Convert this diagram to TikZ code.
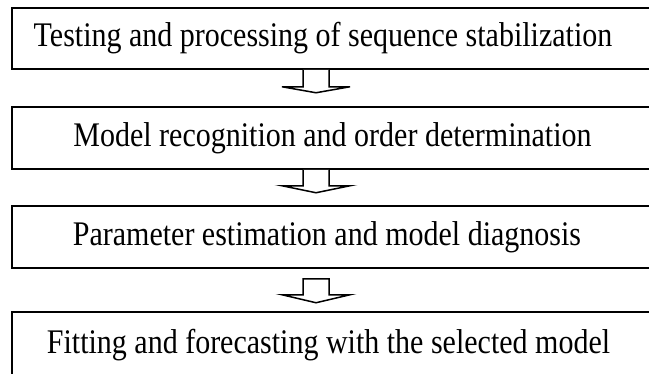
\documentclass[tikz,border=0pt]{standalone}
\usepackage{fontspec}
\setmainfont{Liberation Serif}
\usetikzlibrary{calc}
\newcommand{\boxtxt}[2]{\hspace*{#1}\scalebox{1}[1.15]{#2}}
\begin{document}
\begin{tikzpicture}[x=1pt,y=1pt,
  box/.style={draw, line width=1.5pt, minimum width=643pt, minimum height=62pt, inner sep=0pt,
    font=\fontsize{30}{34}\selectfont},
  harrow/.style={draw, line width=1.5pt, fill=white, line join=miter}]
\path[use as bounding box] (0,0) rectangle (649,-373);
\clip (0,0) rectangle (649,-373);
\node[box, minimum height=61pt] (b1) at (333.5,-38.5) {\boxtxt{-21pt}{Testing and processing of sequence stabilization}};
\node[box] (b2) at (333.5,-138) {\boxtxt{-2pt}{Model recognition and order determination}};
\node[box] (b3) at (333.5,-237) {\boxtxt{-13pt}{Parameter estimation and model diagnosis}};
\node[box, minimum height=66pt] (b4) at (333.5,-345) {\boxtxt{-10pt}{Fitting and forecasting with the selected model}};
\coordinate (m) at (316,0);
% arrow 1 (open top, joined to box 1)
\draw[harrow] ([xshift=-13pt]m |- b1.south) -- ([xshift=-13pt,yshift=-17pt]m |- b1.south)
  -- ([xshift=-34pt,yshift=-17pt]m |- b1.south) -- ([yshift=-23pt]m |- b1.south)
  -- ([xshift=34pt,yshift=-17pt]m |- b1.south) -- ([xshift=13pt,yshift=-17pt]m |- b1.south)
  -- ([xshift=13pt]m |- b1.south);
% arrow 2
\draw[harrow] ([xshift=-13pt]m |- b2.south) -- ([xshift=-13pt,yshift=-16pt]m |- b2.south)
  -- ([xshift=-34pt,yshift=-16pt]m |- b2.south) -- ([yshift=-23pt]m |- b2.south)
  -- ([xshift=34pt,yshift=-16pt]m |- b2.south) -- ([xshift=13pt,yshift=-16pt]m |- b2.south)
  -- ([xshift=13pt]m |- b2.south);
% arrow 3 (closed, separate)
\draw[harrow] ([xshift=-13pt,yshift=-10pt]m |- b3.south) -- ([xshift=-13pt,yshift=-26pt]m |- b3.south)
  -- ([xshift=-34pt,yshift=-26pt]m |- b3.south) -- ([yshift=-34pt]m |- b3.south)
  -- ([xshift=34pt,yshift=-26pt]m |- b3.south) -- ([xshift=13pt,yshift=-26pt]m |- b3.south)
  -- ([xshift=13pt,yshift=-10pt]m |- b3.south) -- cycle;
\end{tikzpicture}
\end{document}
